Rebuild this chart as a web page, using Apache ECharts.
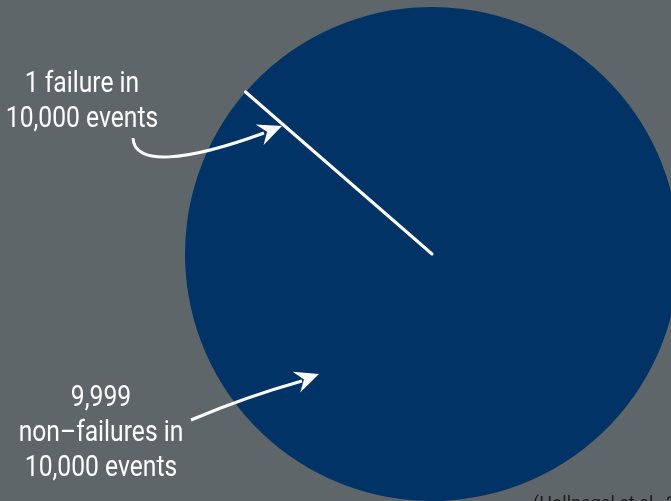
<!DOCTYPE html>
<html>
<head>
<meta charset="utf-8">
<script src="https://cdn.jsdelivr.net/npm/echarts@6/dist/echarts.min.js"></script>
<style>
  html, body { margin: 0; padding: 0; background: #5f6669; }
  #chart { width: 671px; height: 501px; }
</style>
</head>
<body>
<div id="chart"></div>
<script>
// data (failure slice last so its white edge is painted on top)
const categories = ['non-failure', 'failure'];
const counts = [9999, 1];
const sliceColors = ['#013366', '#ffffff'];

const failLabel = ['1 failure in', '10,000 events'];
const okLabel = ['9,999', 'non\u2013failures in', '10,000 events'];
const sourceNote = '(Hollnagel et al., 2015)';

const chart = echarts.init(document.getElementById('chart'));

const textFont = 'Roboto, "Liberation Sans", sans-serif';

// centred text lines, baselines given
function lines(arr, cx, firstBase, step) {
  return arr.map((t, i) => ({
    type: 'text',
    x: cx,
    y: firstBase + i * step - 8,
    scaleX: 0.85,
    z: 100,
    silent: true,
    style: {
      text: t,
      fill: '#ffffff',
      font: '29px ' + textFont,
      textAlign: 'center',
      textVerticalAlign: 'middle'
    }
  }));
}

// arrow head polygon from tip and direction
function head(tx, ty, dx, dy) {
  const len = Math.hypot(dx, dy);
  const ux = dx / len, uy = dy / len;
  const nx = -uy, ny = ux;
  const bx = tx - 24 * ux, by = ty - 24 * uy;
  return {
    type: 'polygon',
    silent: true,
    z: 100,
    shape: {
      points: [
        [tx, ty],
        [bx + 11 * nx, by + 11 * ny],
        [tx - 16 * ux, ty - 16 * uy],
        [bx - 11 * nx, by - 11 * ny]
      ]
    },
    style: { fill: '#ffffff' }
  };
}

const option = {
  backgroundColor: '#5f6669',
  animation: false,
  series: [
    {
      type: 'pie',
      silent: true,
      center: [432, 254],
      radius: [0, 247],
      startAngle: 139,
      clockwise: true,
      label: { show: false },
      labelLine: { show: false },
      data: categories.map((c, i) => ({
        name: c,
        value: counts[i],
        itemStyle: c === 'failure'
          ? { color: sliceColors[i], borderColor: '#ffffff', borderWidth: 3, borderJoin: 'round' }
          : { color: sliceColors[i], borderWidth: 0 }
      }))
    }
  ],
  graphic: [
    ...lines(failLabel, 82, 93, 35),
    ...lines(okLabel, 101, 407, 35),
    {
      type: 'bezierCurve',
      silent: true,
      z: 100,
      shape: { x1: 133, y1: 138, cpx1: 134, cpy1: 166, cpx2: 185, cpy2: 162, x2: 264, y2: 133 },
      style: { stroke: '#ffffff', lineWidth: 3, fill: null }
    },
    head(282, 126, 0.93, -0.36),
    {
      type: 'bezierCurve',
      silent: true,
      z: 100,
      shape: { x1: 191, y1: 420, cpx1: 245, cpy1: 397, x2: 302, y2: 381 },
      style: { stroke: '#ffffff', lineWidth: 3, fill: null }
    },
    head(319, 374, 0.94, -0.34),
    {
      type: 'text',
      x: 533,
      y: 495,
      z: 100,
      silent: true,
      style: {
        text: sourceNote,
        fill: '#1c1c1c',
        font: '18px ' + textFont,
        textAlign: 'left',
        textVerticalAlign: 'top'
      }
    }
  ]
};

chart.setOption(option);
</script>
</body>
</html>
